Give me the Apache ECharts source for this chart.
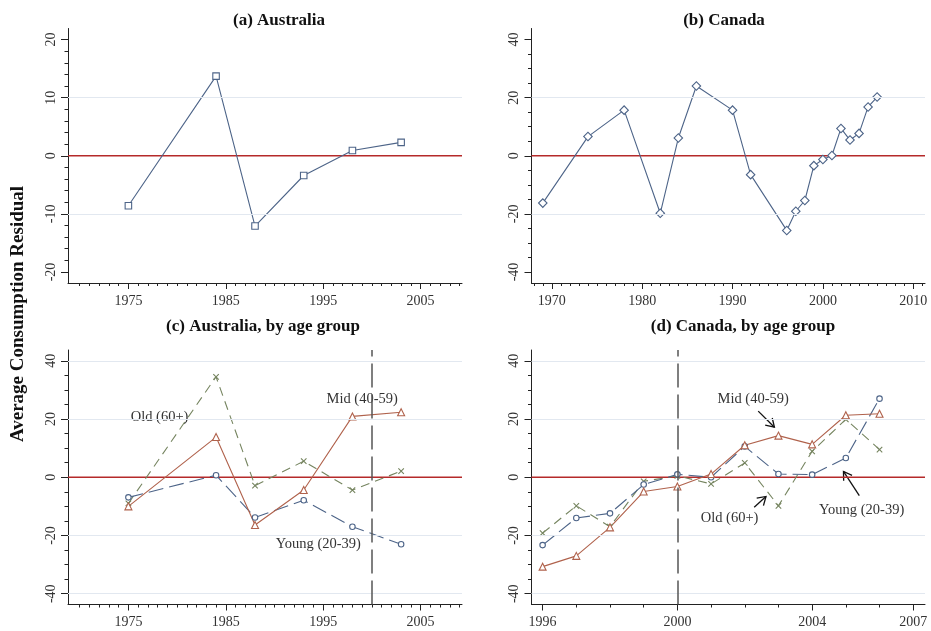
<!DOCTYPE html>
<html>
<head>
<meta charset="utf-8">
<script src="https://cdn.jsdelivr.net/npm/echarts@6/dist/echarts.min.js"></script>
<style>
html,body{margin:0;padding:0;background:#fff;}
#main{width:931px;height:631px;}
</style>
</head>
<body>
<div id="main"></div>
<script>
// ---------- data ----------
const ausYears = [1975, 1984, 1988, 1993, 1998, 2003];
const ausResid = [-8.6, 13.7, -12.1, -3.4, 0.9, 2.3];

const canYears = [1969, 1974, 1978, 1982, 1984, 1986, 1990, 1992, 1996, 1997, 1998, 1999, 2000, 2001, 2002, 2003, 2004, 2005, 2006];
const canResid = [-16.3, 6.6, 15.7, -19.8, 6.1, 24.0, 15.7, -6.5, -25.7, -19.1, -15.4, -3.4, -1.3, 0.1, 9.4, 5.4, 7.7, 16.8, 20.2];

const ausYoung = [-6.9, 0.7, -13.8, -7.9, -17.0, -23.0];
const ausMid   = [-10.0, 13.8, -16.4, -4.4, 20.9, 22.3];
const ausOld   = [-9.0, 34.5, -2.9, 5.5, -4.4, 2.1];

const canAgeYears = [1996, 1997, 1998, 1999, 2000, 2001, 2002, 2003, 2004, 2005, 2006];
const canYoung = [-23.3, -14.0, -12.4, -2.5, 1.0, 0.0, 10.6, 1.1, 0.9, 6.6, 27.0];
const canMid   = [-30.7, -27.0, -17.2, -4.9, -3.2, 1.1, 11.0, 14.3, 11.3, 21.3, 21.8];
const canOld   = [-19.2, -9.8, -17.0, -1.4, 0.5, -2.3, 4.9, -9.8, 8.9, 19.9, 9.5];

// tick labels
const ausXTicks = [1975, 1985, 1995, 2005];
const canXTicks = [1970, 1980, 1990, 2000, 2010];
const canAgeXTicks = [1996, 2000, 2004, 2007];
const yTicksA = [-20, -10, 0, 10, 20];
const yTicksB = [-40, -20, 0, 20, 40];

const titles = ['(a) Australia', '(b) Canada', '(c) Australia, by age group', '(d) Canada, by age group'];
const yTitle = 'Average Consumption Residual';
const seriesNames = ['Young (20-39)', 'Mid (40-59)', 'Old (60+)'];

// ---------- style ----------
const SERIF = '"Liberation Serif", "DejaVu Serif", serif';
const BLUE = '#4d6488';
const RED = '#b0624c';
const GREEN = '#75845f';
const ZERO = '#b52a2a';
const GRIDC = '#e2e8f0';
const AXC = '#222';
const VLINE = '#555';

function range(a, b, s) { const r = []; for (let v = a; v <= b + 1e-9; v += s) r.push(Math.round(v * 100) / 100); return r; }
const plain = v => String(Math.round(v));

const grids = [
  { left: 68, top: 28.5, width: 394, height: 254.5 },
  { left: 531.5, top: 28.5, width: 393.5, height: 254.5 },
  { left: 68, top: 350, width: 394, height: 254.5 },
  { left: 531.5, top: 350, width: 393.5, height: 254.5 }
];

const panels = [
  { xmin: 1968.8, xmax: 2009.25, xMajor: ausXTicks, xMinor: range(1970, 2009, 1), ymin: -21.9, ymax: 21.9, yMajor: yTicksA, yMinor: range(-20, 20, 2), grid: [-10, 10], vline: null },
  { xmin: 1967.75, xmax: 2011.3, xMajor: canXTicks, xMinor: range(1968, 2011, 1), ymin: -43.8, ymax: 43.8, yMajor: yTicksB, yMinor: range(-40, 40, 5), grid: [-20, 20], vline: null },
  { xmin: 1968.8, xmax: 2009.25, xMajor: ausXTicks, xMinor: range(1970, 2009, 1), ymin: -43.7, ymax: 43.7, yMajor: yTicksB, yMinor: range(-40, 40, 5), grid: [-40, -20, 20, 40], vline: 2000 },
  { xmin: 1995.67, xmax: 2007.35, xMajor: canAgeXTicks, xMinor: range(1996, 2007, 1), ymin: -43.7, ymax: 43.7, yMajor: yTicksB, yMinor: range(-40, 40, 5), grid: [-40, -20, 20, 40], vline: 2000 }
];

const xAxes = [], yAxes = [], series = [];
function refSeries(i, data, z) {
  return {
    type: 'line', xAxisIndex: 2 * i, yAxisIndex: 2 * i, data: [], silent: true, z: z,
    markLine: { silent: true, symbol: ['none', 'none'], label: { show: false }, animation: false, data: data }
  };
}
panels.forEach((p, i) => {
  xAxes.push({
    gridIndex: i, type: 'value', min: p.xmin, max: p.xmax, position: 'bottom',
    axisLine: { show: true, onZero: false, lineStyle: { color: AXC, width: 1 } },
    axisTick: { show: true, customValues: p.xMajor, length: 6, lineStyle: { color: AXC, width: 1 } },
    axisLabel: { show: true, customValues: p.xMajor, formatter: plain, margin: 11, fontFamily: SERIF, fontSize: 14, color: '#333' },
    splitLine: { show: false }
  });
  xAxes.push({
    gridIndex: i, type: 'value', min: p.xmin, max: p.xmax, position: 'bottom',
    axisLine: { show: false, onZero: false, lineStyle: { color: AXC } },
    axisTick: { show: true, customValues: p.xMinor, length: 3, lineStyle: { color: AXC, width: 1 } },
    axisLabel: { show: false }, splitLine: { show: false }
  });
  yAxes.push({
    gridIndex: i, type: 'value', min: p.ymin, max: p.ymax, position: 'left',
    axisLine: { show: true, onZero: false, lineStyle: { color: AXC, width: 1 } },
    axisTick: { show: true, customValues: p.yMajor, length: 7, lineStyle: { color: AXC, width: 1 } },
    axisLabel: { show: true, customValues: p.yMajor, formatter: plain, rotate: 90, margin: 10, fontFamily: SERIF, fontSize: 14, color: '#333' },
    splitLine: { show: false }
  });
  yAxes.push({
    gridIndex: i, type: 'value', min: p.ymin, max: p.ymax, position: 'left',
    axisLine: { show: false, onZero: false, lineStyle: { color: AXC } },
    axisTick: { show: true, customValues: p.yMinor, length: 3.5, lineStyle: { color: AXC, width: 1 } },
    axisLabel: { show: false }, splitLine: { show: false }
  });
  series.push(refSeries(i, p.grid.map(v => [
    { coord: [p.xmin, v], lineStyle: { color: GRIDC, width: 1, type: 'solid' } },
    { coord: [p.xmax, v] }
  ]), 1));
  // zero reference line across the axis range
  series.push({
    type: 'line', xAxisIndex: 2 * i, yAxisIndex: 2 * i, z: 2, silent: true, symbol: 'none',
    data: [[p.xmin, 0], [p.xmax, 0]], lineStyle: { color: ZERO, width: 1.3, opacity: 1 },
    emphasis: { disabled: true }, animation: false
  });
  if (p.vline !== null) series.push(refSeries(i, [[
    { coord: [p.vline, p.ymin], lineStyle: { color: VLINE, width: 1.5, type: [24, 7] } },
    { coord: [p.vline, p.ymax] }
  ]], 21));
});

function pairs(xs, ys) { return xs.map((x, k) => [x, ys[k]]); }
const CROSS = 'path://M0,0L10,10M10,0L0,10';

function lineSeries(name, panel, xs, ys, color, dash, symbol, size, rotate) {
  return {
    name: name, type: 'line', xAxisIndex: 2 * panel, yAxisIndex: 2 * panel, z: 3,
    data: pairs(xs, ys), symbol: symbol, symbolSize: size, symbolRotate: rotate || 0, showSymbol: true,
    lineStyle: { color: color, width: 1.1, type: dash },
    itemStyle: { color: symbol === CROSS ? 'rgba(0,0,0,0)' : '#fff', borderColor: color, borderWidth: 1.1 },
    emphasis: { disabled: true }, animation: false
  };
}

const idx = {};
idx.a = series.length; series.push(lineSeries('Australia', 0, ausYears, ausResid, BLUE, 'solid', 'rect', 6.5));
idx.b = series.length; series.push(lineSeries('Canada', 1, canYears, canResid, BLUE, 'solid', 'rect', 6, 45));
idx.cOld = series.length; series.push(lineSeries(seriesNames[2], 2, ausYears, ausOld, GREEN, [9, 6], CROSS, 5.5));
idx.cYoung = series.length; series.push(lineSeries(seriesNames[0], 2, ausYears, ausYoung, BLUE, [15, 6], 'circle', 5.5));
idx.cMid = series.length; series.push(lineSeries(seriesNames[1], 2, ausYears, ausMid, RED, 'solid', 'triangle', 7));
idx.dOld = series.length; series.push(lineSeries(seriesNames[2], 3, canAgeYears, canOld, GREEN, [9, 6], CROSS, 5.5));
idx.dYoung = series.length; series.push(lineSeries(seriesNames[0], 3, canAgeYears, canYoung, BLUE, [15, 6], 'circle', 5.5));
idx.dMid = series.length; series.push(lineSeries(seriesNames[1], 3, canAgeYears, canMid, RED, 'solid', 'triangle', 7));

const titleCenters = [[279, 12], [724, 12], [263, 318], [743, 318]];
const title = titles.map((t, i) => ({
  text: t, left: titleCenters[i][0], top: titleCenters[i][1], textAlign: 'center', padding: 0,
  textStyle: { fontFamily: SERIF, fontWeight: 'bold', fontSize: 17, color: '#111' }
}));

const chart = echarts.init(document.getElementById('main'), null, { renderer: 'canvas' });
chart.setOption({
  animation: false,
  backgroundColor: '#fff',
  title: title,
  grid: grids,
  xAxis: xAxes,
  yAxis: yAxes,
  series: series
});

// ---------- annotations (placed in data coordinates) ----------
const annoTexts = [
  { s: idx.cOld, at: [1978.2, 20.6], text: seriesNames[2] },
  { s: idx.cMid, at: [1999.0, 26.7], text: seriesNames[1] },
  { s: idx.cYoung, at: [1994.5, -23.1], text: seriesNames[0] },
  { s: idx.dMid, at: [2002.25, 26.7], text: seriesNames[1] },
  { s: idx.dOld, at: [2001.55, -14.2], text: seriesNames[2] },
  { s: idx.dYoung, at: [2005.47, -11.4], text: seriesNames[0] }
];
const annoArrows = [
  { s: idx.dMid, from: [2002.4, 22.7], to: [2002.88, 17.2] },
  { s: idx.dOld, from: [2002.28, -10.3], to: [2002.63, -6.6] },
  { s: idx.dYoung, from: [2005.40, -6.3], to: [2004.93, 2.0] }
];

const graphics = [];
graphics.push({
  type: 'text', x: 18, y: 314, rotation: Math.PI / 2,
  style: { text: yTitle, font: 'bold 19px ' + SERIF, fill: '#111', textAlign: 'center', textVerticalAlign: 'middle' }
});
annoTexts.forEach(a => {
  const p = chart.convertToPixel({ seriesIndex: a.s }, a.at);
  graphics.push({
    type: 'text', x: p[0], y: p[1],
    style: { text: a.text, font: '14.5px ' + SERIF, fill: '#333', textAlign: 'center', textVerticalAlign: 'middle' }
  });
});
annoArrows.forEach(a => {
  const p0 = chart.convertToPixel({ seriesIndex: a.s }, a.from);
  const p1 = chart.convertToPixel({ seriesIndex: a.s }, a.to);
  const dx = p1[0] - p0[0], dy = p1[1] - p0[1];
  const L = Math.sqrt(dx * dx + dy * dy);
  const ux = dx / L, uy = dy / L;
  const h = 8, w = 5;
  const b1 = [p1[0] - ux * h - uy * w, p1[1] - uy * h + ux * w];
  const b2 = [p1[0] - ux * h + uy * w, p1[1] - uy * h - ux * w];
  graphics.push({ type: 'polyline', shape: { points: [p0, p1] }, style: { stroke: '#111', lineWidth: 1.3, fill: null } });
  graphics.push({ type: 'polyline', shape: { points: [b1, p1, b2] }, style: { stroke: '#111', lineWidth: 1.3, fill: null } });
});
chart.setOption({ graphic: graphics });
</script>
</body>
</html>
